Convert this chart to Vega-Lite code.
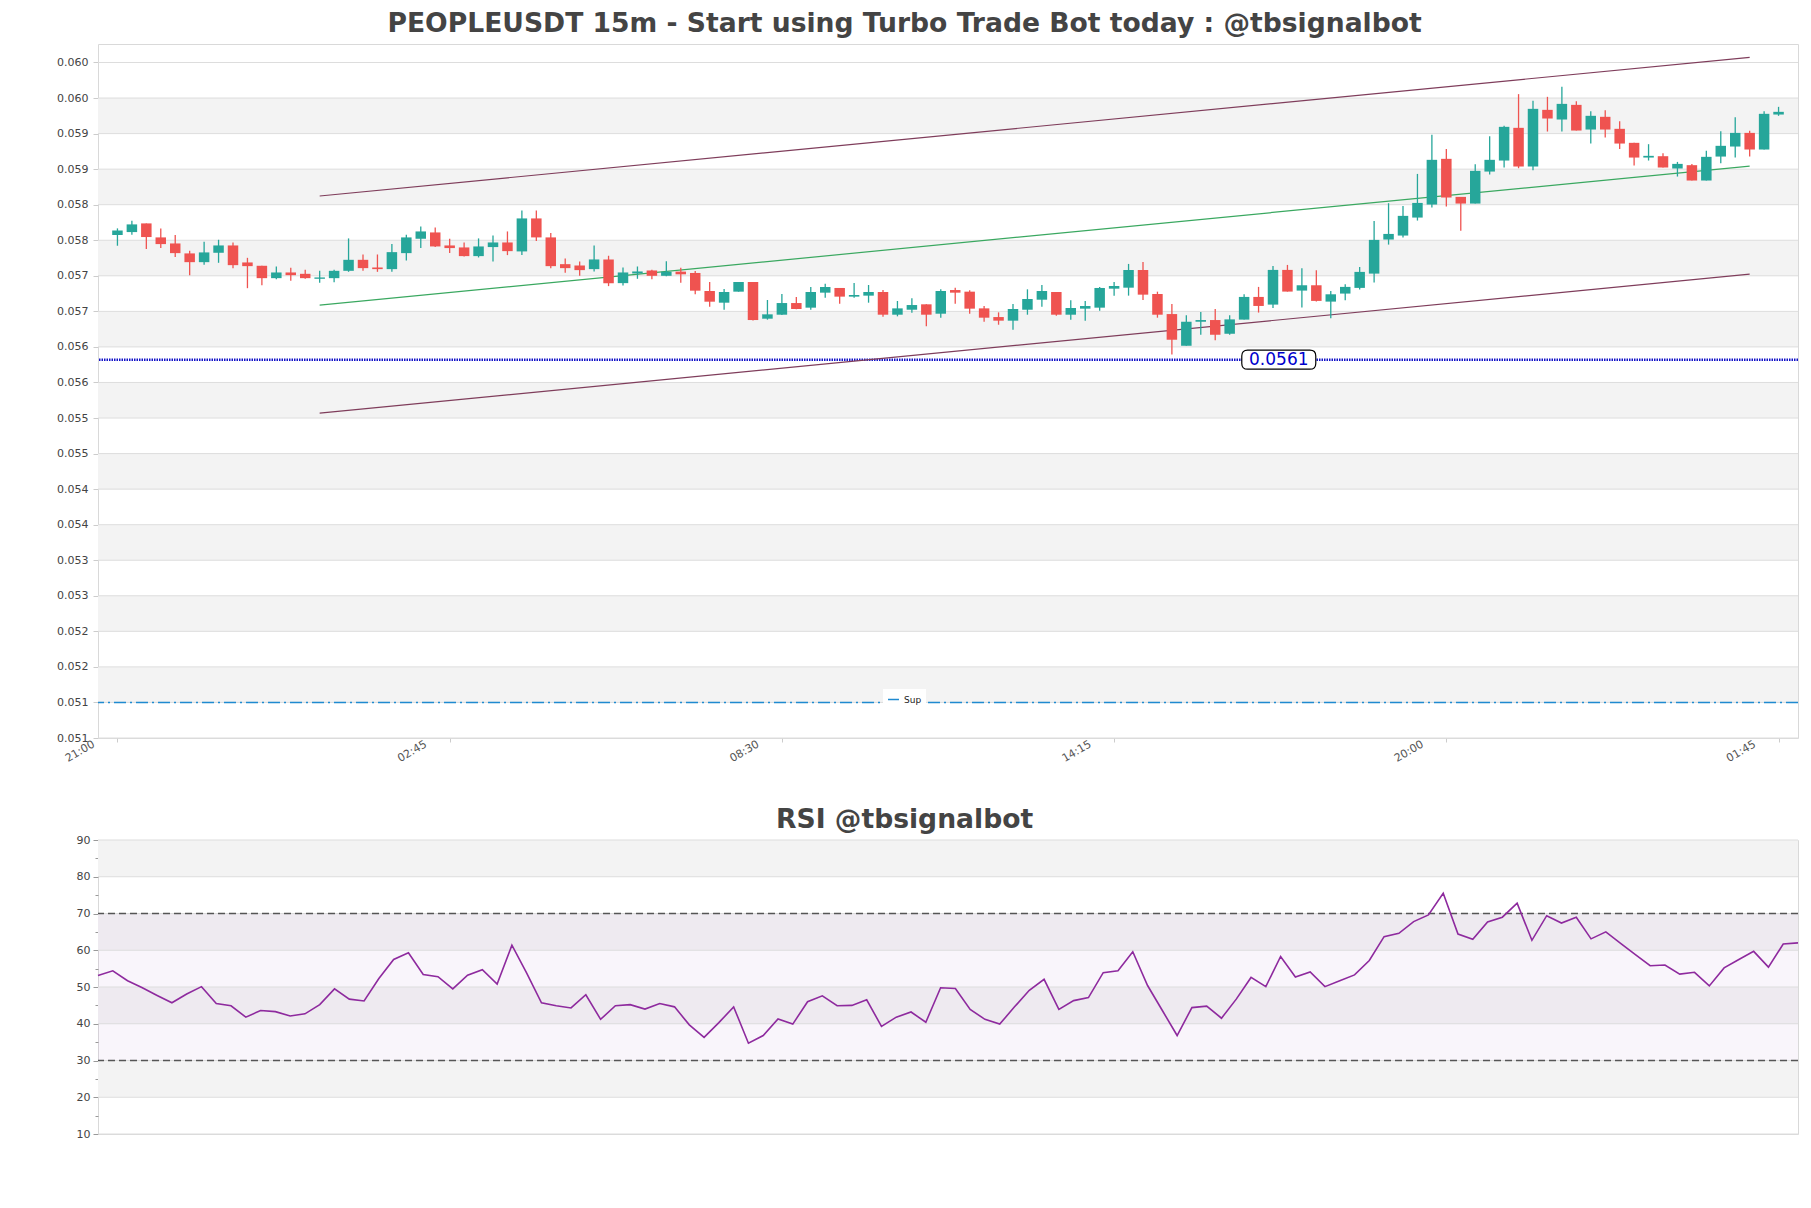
{
"$schema": "https://vega.github.io/schema/vega-lite/v6.json",
"background": "white",
"padding": {"left": 7, "top": 10, "right": 14, "bottom": 5},
"config": {"font": "DejaVu Sans", "view": {"stroke": "#d9d9d9"}, "axis": {"labelOverlap": false}},
"title": {"text": "PEOPLEUSDT 15m - Start using Turbo Trade Bot today : @tbsignalbot", "font": "DejaVu Sans", "fontSize": 26.6, "fontWeight": "bold", "color": "#444444", "anchor": "middle", "offset": 6},
"spacing": 32,
"datasets": {
"ohlc": [
{"t":"2024-01-10T21:00","o":0.058073,"h":0.058167,"l":0.057923,"c":0.058138,"rsi":53.1},
{"t":"2024-01-10T21:15","o":0.058115,"h":0.058275,"l":0.058077,"c":0.058223,"rsi":54.4},
{"t":"2024-01-10T21:30","o":0.058237,"h":0.058237,"l":0.057876,"c":0.058045,"rsi":51.7},
{"t":"2024-01-10T21:45","o":0.058040,"h":0.058167,"l":0.057890,"c":0.057946,"rsi":49.8},
{"t":"2024-01-10T22:00","o":0.057955,"h":0.058073,"l":0.057763,"c":0.057819,"rsi":47.7},
{"t":"2024-01-10T22:15","o":0.057815,"h":0.057852,"l":0.057509,"c":0.057692,"rsi":45.7},
{"t":"2024-01-10T22:30","o":0.057692,"h":0.057979,"l":0.057655,"c":0.057829,"rsi":48.1},
{"t":"2024-01-10T22:45","o":0.057824,"h":0.058007,"l":0.057683,"c":0.057927,"rsi":50.1},
{"t":"2024-01-10T23:00","o":0.057927,"h":0.057969,"l":0.057608,"c":0.057650,"rsi":45.5},
{"t":"2024-01-10T23:15","o":0.057688,"h":0.057753,"l":0.057326,"c":0.057636,"rsi":44.9},
{"t":"2024-01-10T23:30","o":0.057641,"h":0.057641,"l":0.057368,"c":0.057467,"rsi":41.8},
{"t":"2024-01-10T23:45","o":0.057467,"h":0.057631,"l":0.057453,"c":0.057547,"rsi":43.6},
{"t":"2024-01-11T00:00","o":0.057547,"h":0.057613,"l":0.057430,"c":0.057509,"rsi":43.3},
{"t":"2024-01-11T00:15","o":0.057528,"h":0.057584,"l":0.057458,"c":0.057467,"rsi":42.1},
{"t":"2024-01-11T00:30","o":0.057458,"h":0.057570,"l":0.057401,"c":0.057477,"rsi":42.7},
{"t":"2024-01-11T00:45","o":0.057467,"h":0.057584,"l":0.057411,"c":0.057570,"rsi":45.2},
{"t":"2024-01-11T01:00","o":0.057570,"h":0.058026,"l":0.057556,"c":0.057725,"rsi":49.5},
{"t":"2024-01-11T01:15","o":0.057725,"h":0.057800,"l":0.057570,"c":0.057608,"rsi":46.7},
{"t":"2024-01-11T01:30","o":0.057617,"h":0.057800,"l":0.057556,"c":0.057594,"rsi":46.2},
{"t":"2024-01-11T01:45","o":0.057594,"h":0.057946,"l":0.057556,"c":0.057833,"rsi":52.3},
{"t":"2024-01-11T02:00","o":0.057819,"h":0.058077,"l":0.057716,"c":0.058040,"rsi":57.5},
{"t":"2024-01-11T02:15","o":0.058021,"h":0.058195,"l":0.057890,"c":0.058124,"rsi":59.3},
{"t":"2024-01-11T02:30","o":0.058110,"h":0.058181,"l":0.057904,"c":0.057913,"rsi":53.4},
{"t":"2024-01-11T02:45","o":0.057927,"h":0.058021,"l":0.057819,"c":0.057890,"rsi":52.8},
{"t":"2024-01-11T03:00","o":0.057899,"h":0.057969,"l":0.057772,"c":0.057777,"rsi":49.5},
{"t":"2024-01-11T03:15","o":0.057777,"h":0.058026,"l":0.057758,"c":0.057913,"rsi":53.2},
{"t":"2024-01-11T03:30","o":0.057904,"h":0.058068,"l":0.057702,"c":0.057969,"rsi":54.7},
{"t":"2024-01-11T03:45","o":0.057969,"h":0.058124,"l":0.057791,"c":0.057847,"rsi":50.8},
{"t":"2024-01-11T04:00","o":0.057843,"h":0.058420,"l":0.057791,"c":0.058307,"rsi":61.4},
{"t":"2024-01-11T04:15","o":0.058307,"h":0.058420,"l":0.057988,"c":0.058040,"rsi":53.8},
{"t":"2024-01-11T04:30","o":0.058040,"h":0.058101,"l":0.057608,"c":0.057636,"rsi":45.7},
{"t":"2024-01-11T04:45","o":0.057664,"h":0.057744,"l":0.057542,"c":0.057608,"rsi":44.9},
{"t":"2024-01-11T05:00","o":0.057645,"h":0.057702,"l":0.057500,"c":0.057580,"rsi":44.3},
{"t":"2024-01-11T05:15","o":0.057594,"h":0.057927,"l":0.057561,"c":0.057730,"rsi":47.9},
{"t":"2024-01-11T05:30","o":0.057730,"h":0.057782,"l":0.057355,"c":0.057397,"rsi":41.2},
{"t":"2024-01-11T05:45","o":0.057397,"h":0.057617,"l":0.057364,"c":0.057547,"rsi":44.9},
{"t":"2024-01-11T06:00","o":0.057533,"h":0.057631,"l":0.057458,"c":0.057561,"rsi":45.2},
{"t":"2024-01-11T06:15","o":0.057575,"h":0.057584,"l":0.057453,"c":0.057500,"rsi":44.0},
{"t":"2024-01-11T06:30","o":0.057500,"h":0.057705,"l":0.057495,"c":0.057557,"rsi":45.5},
{"t":"2024-01-11T06:45","o":0.057559,"h":0.057615,"l":0.057404,"c":0.057521,"rsi":44.6},
{"t":"2024-01-11T07:00","o":0.057540,"h":0.057568,"l":0.057239,"c":0.057291,"rsi":39.7},
{"t":"2024-01-11T07:15","o":0.057286,"h":0.057413,"l":0.057066,"c":0.057136,"rsi":36.3},
{"t":"2024-01-11T07:30","o":0.057122,"h":0.057315,"l":0.057023,"c":0.057272,"rsi":40.3},
{"t":"2024-01-11T07:45","o":0.057277,"h":0.057413,"l":0.057277,"c":0.057413,"rsi":44.6},
{"t":"2024-01-11T08:00","o":0.057413,"h":0.057413,"l":0.056873,"c":0.056878,"rsi":34.7},
{"t":"2024-01-11T08:15","o":0.056897,"h":0.057160,"l":0.056883,"c":0.056958,"rsi":36.8},
{"t":"2024-01-11T08:30","o":0.056953,"h":0.057244,"l":0.056948,"c":0.057117,"rsi":41.3},
{"t":"2024-01-11T08:45","o":0.057117,"h":0.057202,"l":0.057028,"c":0.057033,"rsi":39.9},
{"t":"2024-01-11T09:00","o":0.057052,"h":0.057343,"l":0.057023,"c":0.057272,"rsi":46.0},
{"t":"2024-01-11T09:15","o":0.057263,"h":0.057390,"l":0.057192,"c":0.057343,"rsi":47.6},
{"t":"2024-01-11T09:30","o":0.057329,"h":0.057329,"l":0.057108,"c":0.057207,"rsi":44.9},
{"t":"2024-01-11T09:45","o":0.057207,"h":0.057399,"l":0.057192,"c":0.057230,"rsi":45.0},
{"t":"2024-01-11T10:00","o":0.057221,"h":0.057371,"l":0.057122,"c":0.057272,"rsi":46.5},
{"t":"2024-01-11T10:15","o":0.057272,"h":0.057300,"l":0.056925,"c":0.056953,"rsi":39.3},
{"t":"2024-01-11T10:30","o":0.056953,"h":0.057146,"l":0.056930,"c":0.057042,"rsi":41.8},
{"t":"2024-01-11T10:45","o":0.057023,"h":0.057183,"l":0.056981,"c":0.057089,"rsi":43.2},
{"t":"2024-01-11T11:00","o":0.057099,"h":0.057099,"l":0.056789,"c":0.056953,"rsi":40.4},
{"t":"2024-01-11T11:15","o":0.056967,"h":0.057310,"l":0.056911,"c":0.057286,"rsi":49.8},
{"t":"2024-01-11T11:30","o":0.057300,"h":0.057333,"l":0.057108,"c":0.057263,"rsi":49.6},
{"t":"2024-01-11T11:45","o":0.057277,"h":0.057296,"l":0.056967,"c":0.057038,"rsi":43.9},
{"t":"2024-01-11T12:00","o":0.057042,"h":0.057075,"l":0.056854,"c":0.056911,"rsi":41.2},
{"t":"2024-01-11T12:15","o":0.056920,"h":0.056986,"l":0.056812,"c":0.056869,"rsi":39.9},
{"t":"2024-01-11T12:30","o":0.056869,"h":0.057103,"l":0.056742,"c":0.057033,"rsi":44.6},
{"t":"2024-01-11T12:45","o":0.057023,"h":0.057310,"l":0.056953,"c":0.057174,"rsi":49.1},
{"t":"2024-01-11T13:00","o":0.057164,"h":0.057371,"l":0.057066,"c":0.057286,"rsi":52.1},
{"t":"2024-01-11T13:15","o":0.057272,"h":0.057272,"l":0.056939,"c":0.056953,"rsi":43.9},
{"t":"2024-01-11T13:30","o":0.056953,"h":0.057155,"l":0.056883,"c":0.057047,"rsi":46.3},
{"t":"2024-01-11T13:45","o":0.057038,"h":0.057146,"l":0.056869,"c":0.057075,"rsi":47.1},
{"t":"2024-01-11T14:00","o":0.057052,"h":0.057343,"l":0.057009,"c":0.057329,"rsi":53.9},
{"t":"2024-01-11T14:15","o":0.057319,"h":0.057413,"l":0.057221,"c":0.057357,"rsi":54.4},
{"t":"2024-01-11T14:30","o":0.057333,"h":0.057667,"l":0.057221,"c":0.057582,"rsi":59.6},
{"t":"2024-01-11T14:45","o":0.057582,"h":0.057695,"l":0.057160,"c":0.057235,"rsi":50.4},
{"t":"2024-01-11T15:00","o":0.057244,"h":0.057277,"l":0.056911,"c":0.056953,"rsi":43.6},
{"t":"2024-01-11T15:15","o":0.056962,"h":0.057103,"l":0.056394,"c":0.056601,"rsi":36.8},
{"t":"2024-01-11T15:30","o":0.056516,"h":0.056944,"l":0.056516,"c":0.056854,"rsi":44.4},
{"t":"2024-01-11T15:45","o":0.056854,"h":0.056991,"l":0.056671,"c":0.056878,"rsi":44.8},
{"t":"2024-01-11T16:00","o":0.056878,"h":0.057033,"l":0.056592,"c":0.056671,"rsi":41.5},
{"t":"2024-01-11T16:15","o":0.056685,"h":0.056944,"l":0.056671,"c":0.056887,"rsi":46.7},
{"t":"2024-01-11T16:30","o":0.056884,"h":0.057240,"l":0.056884,"c":0.057203,"rsi":52.6},
{"t":"2024-01-11T16:45","o":0.057203,"h":0.057344,"l":0.056983,"c":0.057076,"rsi":50.1},
{"t":"2024-01-11T17:00","o":0.057095,"h":0.057639,"l":0.057048,"c":0.057583,"rsi":58.3},
{"t":"2024-01-11T17:15","o":0.057583,"h":0.057653,"l":0.057278,"c":0.057278,"rsi":52.7},
{"t":"2024-01-11T17:30","o":0.057292,"h":0.057606,"l":0.057053,"c":0.057367,"rsi":54.1},
{"t":"2024-01-11T17:45","o":0.057367,"h":0.057578,"l":0.057137,"c":0.057147,"rsi":50.1},
{"t":"2024-01-11T18:00","o":0.057137,"h":0.057287,"l":0.056903,"c":0.057240,"rsi":51.7},
{"t":"2024-01-11T18:15","o":0.057250,"h":0.057381,"l":0.057156,"c":0.057344,"rsi":53.3},
{"t":"2024-01-11T18:30","o":0.057330,"h":0.057625,"l":0.057306,"c":0.057555,"rsi":57.2},
{"t":"2024-01-11T18:45","o":0.057531,"h":0.058272,"l":0.057405,"c":0.058005,"rsi":63.7},
{"t":"2024-01-11T19:00","o":0.058010,"h":0.058521,"l":0.057939,"c":0.058089,"rsi":64.6},
{"t":"2024-01-11T19:15","o":0.058066,"h":0.058483,"l":0.058038,"c":0.058343,"rsi":67.8},
{"t":"2024-01-11T19:30","o":0.058319,"h":0.058933,"l":0.058277,"c":0.058525,"rsi":69.6},
{"t":"2024-01-11T19:45","o":0.058502,"h":0.059482,"l":0.058460,"c":0.059131,"rsi":75.5},
{"t":"2024-01-11T20:00","o":0.059145,"h":0.059285,"l":0.058474,"c":0.058601,"rsi":64.4},
{"t":"2024-01-11T20:15","o":0.058610,"h":0.058610,"l":0.058132,"c":0.058516,"rsi":63.0},
{"t":"2024-01-11T20:30","o":0.058516,"h":0.059070,"l":0.058516,"c":0.058976,"rsi":67.7},
{"t":"2024-01-11T20:45","o":0.058966,"h":0.059464,"l":0.058924,"c":0.059131,"rsi":69.0},
{"t":"2024-01-11T21:00","o":0.059121,"h":0.059609,"l":0.059023,"c":0.059595,"rsi":72.8},
{"t":"2024-01-11T21:15","o":0.059581,"h":0.060055,"l":0.059013,"c":0.059037,"rsi":62.7},
{"t":"2024-01-11T21:30","o":0.059037,"h":0.059961,"l":0.058985,"c":0.059848,"rsi":69.4},
{"t":"2024-01-11T21:45","o":0.059834,"h":0.060017,"l":0.059529,"c":0.059712,"rsi":67.4},
{"t":"2024-01-11T22:00","o":0.059698,"h":0.060158,"l":0.059529,"c":0.059918,"rsi":69.0},
{"t":"2024-01-11T22:15","o":0.059904,"h":0.059956,"l":0.059543,"c":0.059543,"rsi":63.1},
{"t":"2024-01-11T22:30","o":0.059557,"h":0.059815,"l":0.059360,"c":0.059750,"rsi":65.0},
{"t":"2024-01-11T22:45","o":0.059736,"h":0.059829,"l":0.059445,"c":0.059557,"rsi":61.9},
{"t":"2024-01-11T23:00","o":0.059567,"h":0.059675,"l":0.059285,"c":0.059360,"rsi":58.8},
{"t":"2024-01-11T23:15","o":0.059370,"h":0.059370,"l":0.059051,"c":0.059163,"rsi":55.8},
{"t":"2024-01-11T23:30","o":0.059163,"h":0.059351,"l":0.059121,"c":0.059187,"rsi":56.0},
{"t":"2024-01-11T23:45","o":0.059182,"h":0.059224,"l":0.059023,"c":0.059023,"rsi":53.5},
{"t":"2024-01-12T00:00","o":0.059009,"h":0.059102,"l":0.058896,"c":0.059074,"rsi":54.0},
{"t":"2024-01-12T00:15","o":0.059056,"h":0.059074,"l":0.058840,"c":0.058840,"rsi":50.3},
{"t":"2024-01-12T00:30","o":0.058840,"h":0.059257,"l":0.058840,"c":0.059173,"rsi":55.2},
{"t":"2024-01-12T00:45","o":0.059177,"h":0.059534,"l":0.059084,"c":0.059328,"rsi":57.5},
{"t":"2024-01-12T01:00","o":0.059318,"h":0.059731,"l":0.059163,"c":0.059510,"rsi":59.7},
{"t":"2024-01-12T01:15","o":0.059510,"h":0.059539,"l":0.059177,"c":0.059276,"rsi":55.4},
{"t":"2024-01-12T01:30","o":0.059276,"h":0.059815,"l":0.059276,"c":0.059778,"rsi":61.7},
{"t":"2024-01-12T01:45","o":0.059768,"h":0.059876,"l":0.059750,"c":0.059806,"rsi":62.0}
]
},
"vconcat": [
{
"width": 1700,
"height": 694,
"resolve": {"axis": {"y": "independent"}},
"layer": [
{
"data": {"values": [{"lo":0.0515,"hi":0.052},{"lo":0.0525,"hi":0.053},{"lo":0.0535,"hi":0.054},{"lo":0.0545,"hi":0.055},{"lo":0.0555,"hi":0.056},{"lo":0.0565,"hi":0.057},{"lo":0.0575,"hi":0.058},{"lo":0.0585,"hi":0.059},{"lo":0.0595,"hi":0.06}]},
"mark": {"type": "rect", "fill": "#f3f3f3"},
"encoding": {
"y": {"field": "lo", "type": "quantitative", "scale": {"domain": [0.051, 0.06076], "nice": false, "zero": false},
"axis": {"title": null, "orient": "left", "values": [0.051,0.0515,0.052,0.0525,0.053,0.0535,0.054,0.0545,0.055,0.0555,0.056,0.0565,0.057,0.0575,0.058,0.0585,0.059,0.0595,0.06,0.0605], "labelExpr": "format(floor(datum.value*1000+0.001)/1000, '.3f')", "labelOverlap": false, "grid": false, "domain": false, "tickSize": 5, "tickColor": "#cccccc", "labelPadding": 5, "labelFontSize": 11, "labelColor": "#444444", "minExtent": 90, "maxExtent": 90}},
"y2": {"field": "hi"}
}
},
{
"data": {"values": [{"g":0.051},{"g":0.0515},{"g":0.052},{"g":0.0525},{"g":0.053},{"g":0.0535},{"g":0.054},{"g":0.0545},{"g":0.055},{"g":0.0555},{"g":0.056},{"g":0.0565},{"g":0.057},{"g":0.0575},{"g":0.058},{"g":0.0585},{"g":0.059},{"g":0.0595},{"g":0.06},{"g":0.0605}]},
"mark": {"type": "rule", "stroke": "#dddddd", "strokeWidth": 1},
"encoding": {"y": {"field": "g", "type": "quantitative", "axis": null}}
},
{
"data": {"values": [{"p":0.0515,"name":"Sup"}]},
"mark": {"type": "rule", "strokeWidth": 1.4, "strokeDash": [12, 4, 2, 4]},
"encoding": {
"y": {"field": "p", "type": "quantitative", "axis": null},
"stroke": {"field": "name", "type": "nominal", "scale": {"range": ["#1f8ad0"]},
"legend": {"title": null, "orient": "none", "legendX": 785, "legendY": 645, "fillColor": "white", "padding": 4, "labelFontSize": 9, "labelColor": "#222222", "symbolType": "stroke", "symbolSize": 120, "symbolStrokeWidth": 1.5, "symbolDash": [1, 0], "symbolStrokeColor": "#1a2a9a"}}
}
},
{
"data": {"values": [{"p":0.05632}]},
"mark": {"type": "rule", "stroke": "#1414c8", "strokeWidth": 2.5, "strokeDash": [1.5, 1]},
"encoding": {"y": {"field": "p", "type": "quantitative", "axis": null}}
},
{
"data": {"values": [
{"id":"up","t":"2024-01-11T00:30","p":0.058622},{"id":"up","t":"2024-01-12T01:15","p":0.060572},
{"id":"mid","t":"2024-01-11T00:30","p":0.057088},{"id":"mid","t":"2024-01-12T01:15","p":0.059043},
{"id":"low","t":"2024-01-11T00:30","p":0.055569},{"id":"low","t":"2024-01-12T01:15","p":0.057524}
]},
"mark": {"type": "line", "strokeWidth": 1.2},
"encoding": {
"x": {"field": "t", "type": "temporal", "title": null},
"y": {"field": "p", "type": "quantitative", "axis": null},
"detail": {"field": "id", "type": "nominal"},
"color": {"field": "id", "type": "nominal", "scale": {"domain": ["up","mid","low"], "range": ["#7f3d5b","#3aa860","#7f3d5b"]}, "legend": null}
}
},
{
"data": {"name": "ohlc"},
"mark": {"type": "rule", "strokeWidth": 1.3},
"encoding": {
"x": {"field": "t", "type": "temporal",
"scale": {"domain": [{"year":2024,"month":1,"date":10,"hours":20,"minutes":45},{"year":2024,"month":1,"date":12,"hours":2,"minutes":0}], "nice": false},
"axis": {"title": null, "values": [{"year":2024,"month":1,"date":10,"hours":21,"minutes":0},{"year":2024,"month":1,"date":11,"hours":2,"minutes":45},{"year":2024,"month":1,"date":11,"hours":8,"minutes":30},{"year":2024,"month":1,"date":11,"hours":14,"minutes":15},{"year":2024,"month":1,"date":11,"hours":20,"minutes":0},{"year":2024,"month":1,"date":12,"hours":1,"minutes":45}],
"format": "%H:%M", "labelAngle": -30, "labelAlign": "right", "labelBaseline": "top", "labelOffset": -27, "labelFontSize": 11, "labelColor": "#555555", "labelOverlap": false, "grid": false, "domain": false, "tickSize": 4, "tickColor": "#cccccc", "labelPadding": -4, "minExtent": 35, "maxExtent": 35}},
"y": {"field": "l", "type": "quantitative", "axis": null},
"y2": {"field": "h"},
"color": {"condition": {"test": "datum.c >= datum.o", "value": "#26a69a"}, "value": "#ef5350"}
}
},
{
"data": {"name": "ohlc"},
"mark": {"type": "bar", "width": 10.5},
"encoding": {
"x": {"field": "t", "type": "temporal", "title": null},
"y": {"field": "o", "type": "quantitative", "axis": null},
"y2": {"field": "c"},
"color": {"condition": {"test": "datum.c >= datum.o", "value": "#26a69a"}, "value": "#ef5350"}
}
},
{
"data": {"values": [{"t":"2024-01-11T17:06","p":0.05632,"txt":"0.0561"}]},
"mark": {"type": "point", "shape": "M-0.84,-0.257 L0.84,-0.257 Q1,-0.257 1,-0.1 L1,0.1 Q1,0.257 0.84,0.257 L-0.84,0.257 Q-1,0.257 -1,0.1 L-1,-0.1 Q-1,-0.257 -0.84,-0.257 Z", "size": 5476, "filled": true, "fill": "white", "stroke": "black", "strokeWidth": 1.2, "opacity": 1},
"encoding": {"x": {"field": "t", "type": "temporal", "title": null}, "y": {"field": "p", "type": "quantitative", "axis": null}}
},
{
"data": {"values": [{"t":"2024-01-11T17:06","p":0.05632,"txt":"0.0561"}]},
"mark": {"type": "text", "font": "DejaVu Sans", "fontSize": 17, "color": "#0000cc", "align": "center", "baseline": "middle"},
"encoding": {"x": {"field": "t", "type": "temporal", "title": null}, "y": {"field": "p", "type": "quantitative", "axis": null}, "text": {"field": "txt"}}
}
]
},
{
"width": 1700,
"height": 294,
"resolve": {"axis": {"y": "independent"}},
"title": {"text": "RSI @tbsignalbot", "font": "DejaVu Sans", "fontSize": 26.6, "fontWeight": "bold", "color": "#444444", "anchor": "middle", "frame": "bounds", "offset": 0},
"layer": [
{
"data": {"values": [{"lo":80,"hi":90},{"lo":60,"hi":70},{"lo":40,"hi":50},{"lo":20,"hi":30}]},
"mark": {"type": "rect", "fill": "#f3f3f3"},
"encoding": {
"y": {"field": "lo", "type": "quantitative", "scale": {"domain": [10, 90], "nice": false, "zero": false},
"axis": {"title": null, "orient": "left", "values": [10,15,20,25,30,35,40,45,50,55,60,65,70,75,80,85,90], "labelExpr": "datum.value % 10 == 0 ? datum.label : ''", "labelOverlap": false, "grid": false, "domain": false, "tickSize": {"condition": {"test": "datum.value % 10 == 0", "value": 5}, "value": 3}, "tickColor": "#999999", "labelPadding": 3, "labelFontSize": 11, "labelColor": "#444444", "minExtent": 90, "maxExtent": 90}},
"y2": {"field": "hi"}
}
},
{
"data": {"values": [{"lo":30,"hi":70}]},
"mark": {"type": "rect", "fill": "#b27fcc", "opacity": 0.08},
"encoding": {"y": {"field": "lo", "type": "quantitative", "axis": null}, "y2": {"field": "hi"}}
},
{
"data": {"values": [{"g":10},{"g":20},{"g":30},{"g":40},{"g":50},{"g":60},{"g":70},{"g":80},{"g":90}]},
"mark": {"type": "rule", "stroke": "#dddddd", "strokeWidth": 1},
"encoding": {"y": {"field": "g", "type": "quantitative", "axis": null}}
},
{
"data": {"values": [{"g":30},{"g":70}]},
"mark": {"type": "rule", "stroke": "#555555", "strokeWidth": 1.3, "strokeDash": [7, 4]},
"encoding": {"y": {"field": "g", "type": "quantitative", "axis": null}}
},
{
"data": {"name": "ohlc"},
"mark": {"type": "line", "stroke": "#8e2a9e", "strokeWidth": 1.6},
"encoding": {
"x": {"field": "t", "type": "temporal", "scale": {"domain": [{"year":2024,"month":1,"date":10,"hours":21,"minutes":0},{"year":2024,"month":1,"date":12,"hours":1,"minutes":45}], "nice": false}, "axis": null},
"y": {"field": "rsi", "type": "quantitative", "axis": null}
}
}
]
}
]
}
